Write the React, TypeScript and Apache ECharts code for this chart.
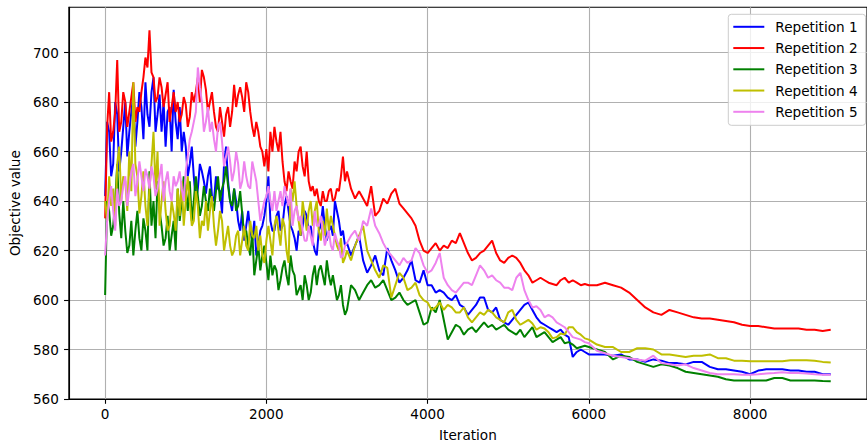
import React, { useEffect, useRef } from "react";
import * as echarts from "echarts";

const iterations = [
  0, 25, 50, 75, 100, 125, 150, 175, 200, 225, 250, 275, 300, 325, 350, 375, 400, 425, 450, 475,
  500, 525, 550, 575, 600, 625, 650, 675, 700, 725, 750, 775, 800, 825, 850, 875, 900, 925, 950, 975,
  1000, 1025, 1050, 1075, 1100, 1125, 1150, 1175, 1200, 1225, 1250, 1275, 1300, 1325, 1350, 1375, 1400, 1425, 1450, 1475,
  1500, 1525, 1550, 1575, 1600, 1625, 1650, 1675, 1700, 1725, 1750, 1775, 1800, 1825, 1850, 1875, 1900, 1925, 1950, 1975,
  2000, 2025, 2050, 2075, 2100, 2125, 2150, 2175, 2200, 2225, 2250, 2275, 2300, 2325, 2350, 2375, 2400, 2425, 2450, 2475,
  2500, 2525, 2550, 2575, 2600, 2625, 2650, 2675, 2700, 2725, 2750, 2775, 2800, 2825, 2850, 2875, 2900, 2925, 2950, 2975,
  3000,
  3050, 3100, 3150, 3200, 3250, 3300, 3350, 3400, 3450, 3500, 3550, 3600, 3650, 3700, 3750, 3800, 3850, 3900, 3950, 4000,
  4050, 4100, 4150, 4200, 4250, 4300, 4350, 4400, 4450, 4500, 4550, 4600, 4650, 4700, 4750, 4800, 4850, 4900, 4950, 5000,
  5050, 5100, 5150, 5200, 5250, 5300, 5350, 5400, 5450, 5500, 5550, 5600, 5650, 5700, 5750, 5800, 5850, 5900, 5950, 6000,
  6100, 6200, 6300, 6400, 6500, 6600, 6700, 6800, 6900, 7000, 7100, 7200, 7300, 7400, 7500,
  7600, 7700, 7800, 7900, 8000, 8100, 8200, 8300, 8400, 8500, 8600, 8700, 8800, 8900, 9000,
];

const repetition1 = [
  642, 672, 668, 650, 655, 680, 675, 652, 660, 670, 680, 658, 668, 676, 683, 662, 672, 684, 678, 665,
  688, 675, 670, 684, 690, 668, 675, 683, 668, 680, 662, 676, 678, 660, 685, 672, 665, 678, 660, 668,
  662, 650, 655, 662, 650, 640, 645, 655, 652, 648, 643, 650, 654, 642, 640, 650, 645, 644, 635, 655,
  662, 648, 640, 636, 645, 640, 632, 628, 636, 624, 630, 636, 628, 624, 632, 618, 622, 628, 630, 634,
  640, 650, 632, 628, 628, 634, 636, 628, 630, 638, 642, 636, 630, 628, 625, 620, 628, 626, 630, 636,
  634, 628, 630, 624, 620, 618, 628, 630, 638, 630, 624, 628, 630, 626, 640, 636, 632, 626, 628, 622,
  623,
  618, 622, 626, 616, 611, 614, 618, 612, 610, 621, 616, 612, 607, 609, 612, 616, 608, 607, 612, 606,
  606, 603, 604, 603, 601, 600, 602, 598, 597, 594, 596, 598, 601, 601, 596, 595, 597, 592, 591, 590,
  592, 594, 596, 598, 599, 596, 593, 591, 590, 589, 588, 587, 588, 586, 585, 577, 579, 580, 579, 578,
  578, 578, 577.5, 578, 576, 576, 575, 576, 575.5, 574.5, 574.5, 574, 575, 575, 573,
  572, 572, 571.5, 571, 570, 571.5, 572, 572, 572, 571.5, 571.5, 571, 571, 570, 570,
];

const repetition2 = [
  633, 670, 684, 664, 668, 676, 697, 668, 672, 684, 680, 670, 676, 682, 688, 672, 678, 676, 684, 690,
  698, 694, 709, 692, 690, 680, 682, 690, 686, 678, 683, 688, 672, 678, 684, 676, 680, 672, 675, 682,
  679, 670, 674, 684, 680, 684, 690, 680, 693, 690, 685, 676, 680, 684, 676, 670, 668, 678, 672, 666,
  675, 678, 670, 676, 687, 678, 683, 686, 682, 676, 688, 684, 676, 670, 666, 672, 668, 662, 660, 654,
  661, 652, 668, 660, 670, 664, 660, 668, 656, 648, 644, 652, 648, 645, 656, 652, 660, 662, 654, 650,
  660, 648, 644, 646, 642, 645, 640, 638, 644, 640, 640, 644, 645, 640, 641, 645, 644, 650, 658, 648,
  652,
  645, 641, 644, 641, 638, 646, 634, 636, 641, 639, 643, 645, 639, 637, 635, 633, 630, 624, 620, 619,
  621, 623, 620, 622, 621, 624, 623, 627, 623, 619, 616, 617, 619, 620, 622, 624, 619, 616, 615, 617,
  618, 617, 615, 612, 610, 607, 608, 609, 608, 607, 606.5, 606, 608, 609, 607, 608, 607, 606, 606.5, 606,
  606, 607, 606, 605, 603, 600, 597, 595, 594, 596, 595, 594, 593, 592.5, 592.5,
  592, 591.5, 591, 590, 589.5, 589.5, 589, 588.5, 588.5, 588.5, 588.5, 588, 588, 587.5, 588,
];

const repetition3 = [
  602, 640, 636, 626, 630, 640, 655, 635, 625, 640, 628, 619, 622, 632, 618, 628, 636, 625, 620, 633,
  628, 620, 652, 630, 640, 625, 648, 636, 630, 622, 625, 634, 620, 626, 632, 620, 645, 632, 640, 650,
  645, 636, 648, 632, 640, 650, 642, 634, 638, 646, 640, 636, 645, 640, 636, 644, 650, 640, 645, 648,
  654, 646, 640, 638, 645, 636, 638, 644, 635, 626, 628, 622, 618, 628, 610, 616, 622, 612, 618, 622,
  615, 608, 618, 610, 614, 612, 604, 608, 613, 616, 610, 606, 618, 612, 610, 602, 604, 606, 600, 610,
  606, 600, 603, 610, 614, 606, 612, 614, 610, 606, 616, 610, 606, 610, 605, 600, 602, 606, 598, 594,
  596,
  606, 604, 600, 603, 606, 608, 605, 606, 608, 604, 600, 601, 603, 600, 598, 599, 600, 595, 590, 591,
  597, 595, 600, 592, 584, 587, 590, 589, 586, 588, 589, 587, 589, 591, 589, 590, 588, 589, 590, 588,
  587, 586, 588, 585, 587, 589, 585, 586, 587, 585, 583, 584, 585, 582.5, 583, 582, 580.5, 581, 581.5, 581,
  580, 579, 576, 577.5, 577, 575, 574, 573, 574, 573.5, 572.5, 571, 570.5, 570, 569.5,
  569, 568, 567.5, 567.5, 567.5, 567.5, 567.5, 568.5, 568.5, 567.5, 567.5, 567.5, 567.5, 567.3, 567.2,
];

const repetition4 = [
  640, 632, 650, 638, 645, 630, 655, 662, 640, 650, 648, 636, 660, 644, 688, 655, 650, 635, 642, 652,
  638, 630, 645, 655, 668, 645, 660, 630, 640, 648, 636, 628, 630, 640, 635, 628, 645, 634, 648, 630,
  640, 650, 640, 630, 632, 644, 638, 625, 632, 630, 640, 628, 636, 642, 630, 622, 628, 636, 632, 620,
  625, 630, 622, 618, 620, 626, 628, 618, 624, 630, 622, 620, 632, 626, 625, 630, 620, 626, 618, 615,
  624, 630, 624, 618, 630, 634, 628, 622, 633, 630, 620, 615, 645, 640, 648, 638, 632, 626, 640, 634,
  628, 636, 640, 630, 636, 640, 628, 624, 632, 626, 637, 628, 634, 630, 626, 622, 620, 625, 615, 617,
  620,
  616, 622, 626, 630, 620, 616, 612, 609, 614, 613, 601, 606, 611, 609, 604, 605, 607, 602, 600, 599,
  596, 597, 599, 596, 598, 597, 595, 595, 597, 593, 591, 593, 595, 594, 596, 595, 593, 592, 591, 595,
  596, 592, 590, 591, 592, 590.5, 588, 589, 588.5, 587, 584.5, 585, 586.5, 586, 589, 589, 587, 586, 584.5, 584,
  582, 581, 581, 579, 579, 580.5, 580.5, 580, 578, 578, 577.5, 577, 577.5, 577.5, 578,
  576.5, 576.5, 575.5, 575.5, 575.3, 575.3, 575.3, 575.3, 575.3, 575.7, 575.7, 575.7, 575.5, 575, 574.8,
];

const repetition5 = [
  618, 632, 640, 646, 636, 628, 645, 638, 640, 646, 650, 638, 645, 652, 655, 642, 648, 656, 650, 644,
  653, 650, 645, 654, 650, 642, 645, 650, 655, 640, 648, 652, 644, 640, 650, 646, 648, 652, 645, 640,
  652, 658, 665, 668, 672, 676, 694, 686, 680, 668, 672, 678, 668, 672, 665, 660, 670, 672, 664, 654,
  658, 662, 656, 648, 652, 660, 655, 645, 648, 656, 650, 646, 645, 656, 652, 648, 640, 632, 636, 640,
  642, 646, 640, 636, 644, 636, 640, 644, 638, 646, 642, 638, 645, 630, 636, 638, 632, 634, 628, 624,
  624, 630, 626, 622, 636, 630, 630, 634, 628, 622, 625, 628, 622, 620, 627, 624, 622, 617, 618, 622,
  623,
  626, 628, 624, 632, 630, 637, 630, 627, 623, 620, 618, 616, 614, 617, 615, 616, 621, 619, 614, 611,
  612, 615, 619, 609, 606, 604, 603, 605, 607, 607, 606, 610, 614, 612, 609, 610, 608, 607, 605, 605,
  604, 609, 611, 604, 600, 597, 597.5, 596, 593, 594, 593, 591, 590, 589, 587, 585, 584.5, 584, 583, 582.5,
  579.5, 578.5, 577.5, 577, 576.5, 576, 575.5, 577.5, 574.5, 574, 573.5, 574, 572.5, 571.5, 570.5,
  570, 570, 570, 569.8, 569.8, 570, 570.3, 570.5, 570.8, 570.5, 570.5, 570.3, 570, 569.8, 569.8,
];

const seriesNames = ["Repetition 1", "Repetition 2", "Repetition 3", "Repetition 4", "Repetition 5"];
const seriesColors = ["#0000ff", "#ff0000", "#008000", "#bfbf00", "#ee82ee"];
const xTickValues = [0, 2000, 4000, 6000, 8000];
const yTickValues = [560, 580, 600, 620, 640, 660, 680, 700];

export default function App() {
  const ref = useRef<HTMLDivElement>(null);

  useEffect(() => {
    if (!ref.current) return;
    const chart = echarts.init(ref.current, null, { renderer: "svg" });
    const font = "DejaVu Sans";
    const allValues = [repetition1, repetition2, repetition3, repetition4, repetition5];
    const axisText = { color: "#000", fontSize: 13.6, fontFamily: font };

    chart.setOption({
      animation: false,
      backgroundColor: "#ffffff",
      textStyle: { fontFamily: font },
      grid: {
        left: 66.7,
        right: -8.1,
        top: 7.3,
        bottom: 46,
        show: true,
        borderColor: "#000",
        borderWidth: 1.1,
        backgroundColor: "transparent",
      },
      legend: {
        orient: "vertical",
        left: 728.3,
        top: 14.3,
        data: seriesNames,
        icon: "rect",
        itemWidth: 31,
        itemHeight: 2,
        itemGap: 6.25,
        padding: [5, 8, 6, 5],
        backgroundColor: "rgba(255,255,255,0.8)",
        borderColor: "#cccccc",
        borderWidth: 1,
        borderRadius: 3,
        textStyle: {
          color: "#000",
          fontSize: 13.6,
          fontFamily: font,
          lineHeight: 15,
          padding: [0, 0, 0, 6],
        },
      },
      xAxis: {
        type: "value",
        min: -450,
        max: 9450,
        name: "Iteration",
        nameLocation: "middle",
        nameGap: 29,
        nameTextStyle: axisText,
        axisLine: { show: true, onZero: false, lineStyle: { color: "#000", width: 1.1 } },
        axisTick: {
          show: true,
          length: 4.8,
          customValues: xTickValues,
          lineStyle: { color: "#000", width: 1.1 },
        },
        axisLabel: {
          ...axisText,
          margin: 8,
          customValues: xTickValues,
          formatter: (v: number) => String(v),
        },
        splitLine: { show: true, lineStyle: { color: "#b0b0b0", width: 1.1 } },
      },
      yAxis: {
        type: "value",
        min: 560,
        max: 718.3,
        interval: 20,
        name: "Objective value",
        nameLocation: "middle",
        nameGap: 44,
        nameTextStyle: axisText,
        axisLine: { show: true, onZero: false, lineStyle: { color: "#000", width: 1.1 } },
        axisTick: {
          show: true,
          length: 4.8,
          customValues: yTickValues,
          lineStyle: { color: "#000", width: 1.1 },
        },
        axisLabel: {
          ...axisText,
          margin: 10,
          customValues: yTickValues,
          formatter: (v: number) => String(v),
        },
        splitLine: { show: true, lineStyle: { color: "#b0b0b0", width: 1.1 } },
      },
      series: allValues.map((vals, k) => ({
        type: "line",
        name: seriesNames[k],
        data: iterations.map((it, i) => [it, vals[i]]),
        showSymbol: false,
        symbol: "none",
        color: seriesColors[k],
        lineStyle: { color: seriesColors[k], width: 2 },
        emphasis: { disabled: true },
      })),
    });

    return () => chart.dispose();
  }, []);

  return (
    <div
      ref={ref}
      style={{ position: "absolute", left: 0, top: 0, width: 867, height: 447, background: "#fff" }}
    />
  );
}
